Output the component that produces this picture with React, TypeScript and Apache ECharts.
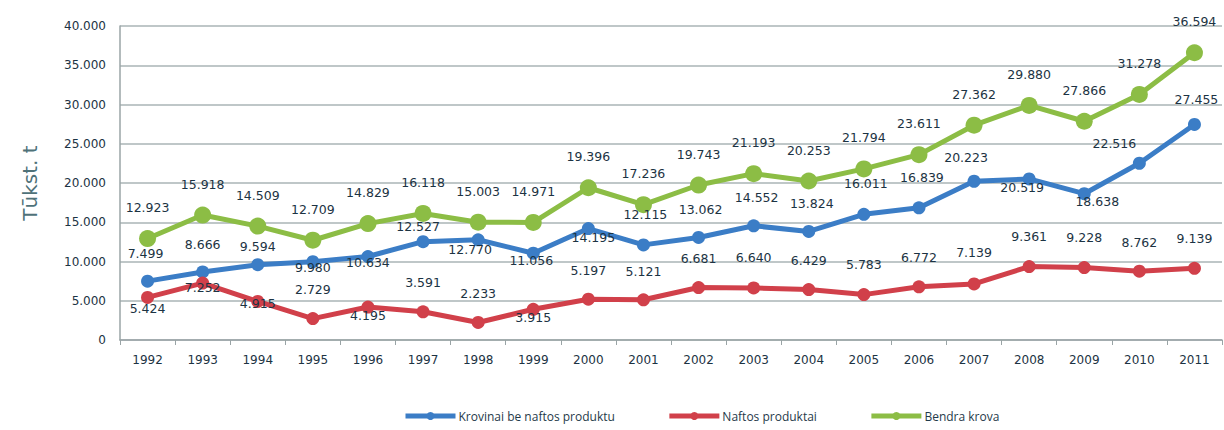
import React, { useEffect, useRef } from "react";
import * as echarts from "echarts";

const years = ["1992","1993","1994","1995","1996","1997","1998","1999","2000","2001","2002","2003","2004","2005","2006","2007","2008","2009","2010","2011"];
const krovinai = [7499, 8666, 9594, 9980, 10634, 12527, 12770, 11056, 14195, 12115, 13062, 14552, 13824, 16011, 16839, 20223, 20519, 18638, 22516, 27455];
const naftos = [5424, 7252, 4915, 2729, 4195, 3591, 2233, 3915, 5197, 5121, 6681, 6640, 6429, 5783, 6772, 7139, 9361, 9228, 8762, 9139];
const bendra = [12923, 15918, 14509, 12709, 14829, 16118, 15003, 14971, 19396, 17236, 19743, 21193, 20253, 21794, 23611, 27362, 29880, 27866, 31278, 36594];

// label offsets (styling only)
const blueDy = [-28, -27, -18, 6, 6, -15, 10, 7, 9, -30, -28, -28, -28, -31, -30, -24, 9, 8, -20, -25];
const blueDx = [-2, 0, 0, 0, 0, -5, -8, -2, 5, 2, 2, 3, 3, 2, 3, -8, -7, 13, -25, 2];
const redDy = [11, 4, 2, -29, 8, -29, -29, 8, -29, -28, -29, -30, -29, -30, -29, -31, -30, -30, -29, -30];
const greenDy = -31;

const fmt = (v: number) => {
  if (v === 0) return "0";
  const t = Math.floor(v / 1000);
  const r = v % 1000;
  return t + "." + String(r).padStart(3, "0");
};

const FONT = "DejaVu Sans";
const TXT = "#1c3343";

export default function App() {
  const ref = useRef<HTMLDivElement>(null);
  useEffect(() => {
    document.body.style.margin = "0";
    const chart = echarts.init(ref.current!, null, { renderer: "svg" });
    const labelBase = {
      show: true,
      position: "inside" as const,
      color: TXT,
      fontFamily: FONT,
      fontSize: 12.5,
      formatter: (p: any) => fmt(p.value),
    };
    chart.setOption({
      animation: false,
      backgroundColor: "#ffffff",
      grid: { left: 120, right: 2, top: 26, bottom: 90 },
      legend: {
        left: 403,
        top: 410,
        padding: 0,
        itemWidth: 50,
        itemHeight: 10,
        itemGap: 52,
        lineStyle: { width: 5 },
        textStyle: { fontFamily: "Open Sans", fontSize: 12, color: "#1f3a4a", padding: [0, 0, 0, -2] },
        data: ["Krovinai be naftos produktu", "Naftos produktai", "Bendra krova"],
      },
      xAxis: {
        type: "category",
        data: years,
        boundaryGap: true,
        axisLine: { lineStyle: { color: "#9aa4a6", width: 1.5 } },
        axisTick: { show: true, length: 5, lineStyle: { color: "#9aa4a6" } },
        axisLabel: { color: TXT, fontFamily: FONT, fontSize: 12, margin: 14 },
      },
      yAxis: {
        type: "value",
        min: 0,
        max: 40000,
        interval: 5000,
        name: "Tūkst. t",
        nameLocation: "middle",
        nameGap: 80,
        nameRotate: 90,
        nameTextStyle: { color: "#4f7279", fontFamily: FONT, fontSize: 20 },
        axisLine: { show: true, lineStyle: { color: "#9aa4a6", width: 1.5 } },
        axisTick: { show: false },
        splitLine: { lineStyle: { color: "#aab4b6", width: 1.5 } },
        axisLabel: { color: TXT, fontFamily: FONT, fontSize: 12, margin: 14, formatter: (v: number) => fmt(v) },
      },
      series: [
        {
          name: "Krovinai be naftos produktu",
          type: "line",
          data: krovinai.map((v, i) => ({ value: v, label: { offset: [blueDx[i], blueDy[i]] } })),
          symbol: "circle",
          symbolSize: 13,
          itemStyle: { color: "#3b7dc6" },
          lineStyle: { color: "#3b7dc6", width: 5 },
          label: labelBase,
          z: 3,
        },
        {
          name: "Naftos produktai",
          type: "line",
          data: naftos.map((v, i) => ({ value: v, label: { offset: [0, redDy[i]] } })),
          symbol: "circle",
          symbolSize: 13,
          itemStyle: { color: "#d1404a" },
          lineStyle: { color: "#d1404a", width: 5 },
          label: labelBase,
          z: 4,
        },
        {
          name: "Bendra krova",
          type: "line",
          data: bendra.map((v) => ({ value: v, label: { offset: [0, greenDy] } })),
          symbol: "circle",
          symbolSize: 17,
          itemStyle: { color: "#8cbd45" },
          lineStyle: { color: "#8cbd45", width: 5 },
          label: labelBase,
          z: 2,
        },
      ],
    });
    return () => chart.dispose();
  }, []);
  return <div ref={ref} style={{ width: 1224, height: 430 }} />;
}
